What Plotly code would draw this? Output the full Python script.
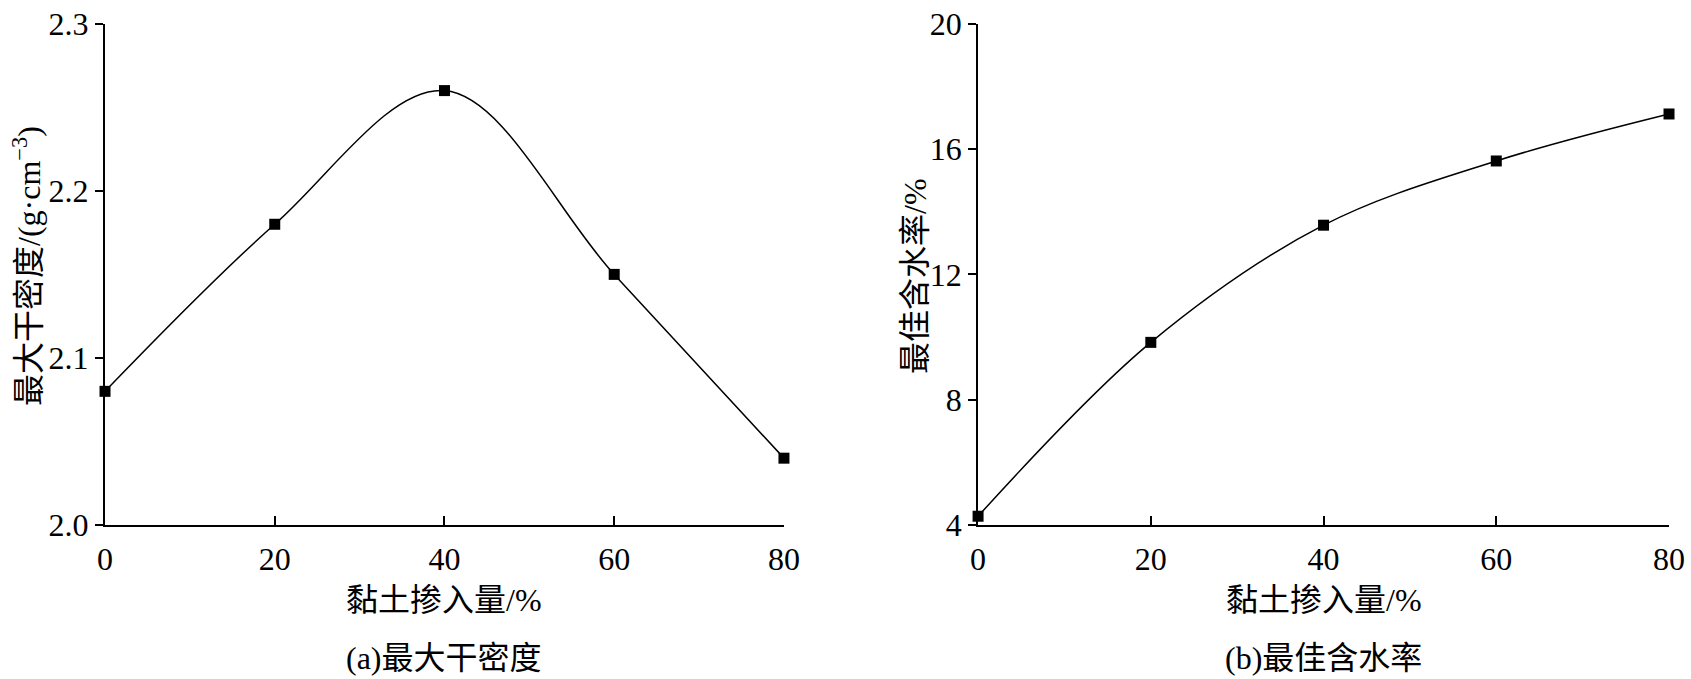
import plotly.graph_objects as go

# clay content (%)
clay = [0, 20, 40, 60, 80]
# (a) max dry density, g/cm3
max_density = [2.08, 2.18, 2.26, 2.15, 2.04]
# (b) optimum moisture content, %
opt_moisture = [4.28, 9.83, 13.57, 15.62, 17.12]

x_ticks = [0, 20, 40, 60, 80]
y1_ticks = [2.0, 2.1, 2.2, 2.3]
y1_labels = ["2.0", "2.1", "2.2", "2.3"]
y2_ticks = [4, 8, 12, 16, 20]

FONT = "Liberation Serif, Times New Roman, Noto Sans CJK SC"
FS = 32
fig = go.Figure()

fig.add_trace(go.Scatter(
    x=clay, y=max_density, mode="lines+markers",
    line=dict(color="black", width=1.5, shape="spline", smoothing=1.0),
    marker=dict(symbol="square", size=11, color="black"),
    xaxis="x", yaxis="y", showlegend=False, cliponaxis=False,
))
fig.add_trace(go.Scatter(
    x=clay, y=opt_moisture, mode="lines+markers",
    line=dict(color="black", width=1.5, shape="spline", smoothing=1.0),
    marker=dict(symbol="square", size=11, color="black"),
    xaxis="x2", yaxis="y2", showlegend=False, cliponaxis=False,
))

xcommon = dict(
    showgrid=False, zeroline=False, showline=True, linecolor="black", linewidth=2,
    ticks="inside", ticklen=9, tickwidth=1.5, tickcolor="black",
    tickvals=x_ticks, range=[0, 80], ticklabelstandoff=5,
    tickfont=dict(family=FONT, size=FS, color="black"),
)
ycommon = dict(
    showgrid=False, zeroline=False, showline=True, linecolor="black", linewidth=2,
    ticks="outside", ticklen=8, tickwidth=1.5, tickcolor="black",
    tickfont=dict(family=FONT, size=FS, color="black"),
)

fig.update_layout(
    width=1691, height=679,
    margin=dict(l=0, r=0, t=0, b=0, autoexpand=False),
    paper_bgcolor="white", plot_bgcolor="white",
    font=dict(family=FONT, size=FS, color="black"),
    xaxis=dict(domain=[0.0621, 0.4636], anchor="y", **xcommon),
    yaxis=dict(domain=[0.2268, 0.965], anchor="x", range=[2.0, 2.3],
               tickvals=y1_ticks, ticktext=y1_labels, **ycommon),
    xaxis2=dict(domain=[0.5784, 0.987], anchor="y2", **xcommon),
    yaxis2=dict(domain=[0.2268, 0.965], anchor="x2", range=[4, 20],
                tickvals=y2_ticks, **ycommon),
)

annots = [
    dict(x=0.2628, y=(679 - 600) / 679, text="黏土掺入量/%"),
    dict(x=0.7827, y=(679 - 600) / 679, text="黏土掺入量/%"),
    dict(x=0.2628, y=(679 - 658) / 679, text="(a)最大干密度"),
    dict(x=0.7827, y=(679 - 658) / 679, text="(b)最佳含水率"),
    dict(x=27 / 1691, y=(679 - 266) / 679, text="最大干密度/(g·cm<sup>−3</sup>)", textangle=-90),
    dict(x=915 / 1691, y=(679 - 276) / 679, text="最佳含水率/%", textangle=-90),
]
for a in annots:
    fig.add_annotation(xref="paper", yref="paper", showarrow=False,
                       xanchor="center", yanchor="middle",
                       font=dict(family=FONT, size=FS, color="black"), **a)

fig.write_html("out.html", config={"displayModeBar": False},
               post_script="document.body.style.margin='0';document.body.style.overflow='hidden';")
